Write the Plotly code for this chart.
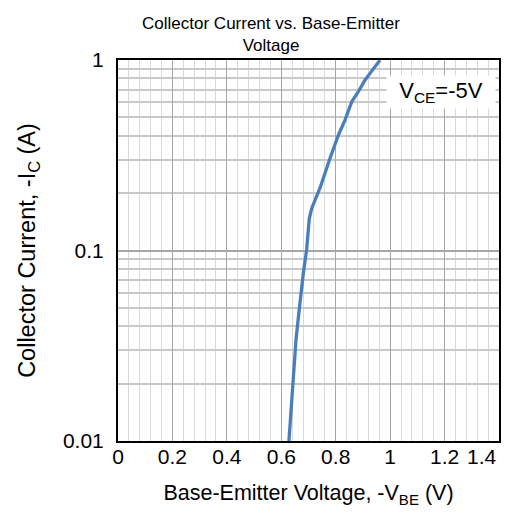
import plotly.graph_objects as go

vbe = [0.628, 0.638, 0.647, 0.654, 0.663, 0.671, 0.681, 0.693, 0.703, 0.712,
       0.742, 0.779, 0.810, 0.834, 0.859, 0.883, 0.908, 0.926, 0.957, 0.963]
ic = [0.0100, 0.0164, 0.0227, 0.0339, 0.0449, 0.0571, 0.0759, 0.1006, 0.1476, 0.1667,
      0.2124, 0.305, 0.404, 0.484, 0.604, 0.682, 0.785, 0.851, 0.98, 1.0]

x_ticks = [0, 0.2, 0.4, 0.6, 0.8, 1.0, 1.2, 1.4]
x_tick_text = ["0", "0.2", "0.4", "0.6", "0.8", "1", "1.2", "1.4"]
y_ticks = [0.01, 0.1, 1]
y_tick_text = ["0.01", "0.1", "1"]

FONT = "Liberation Sans, Arial, sans-serif"

fig = go.Figure()
fig.add_trace(go.Scatter(x=vbe, y=ic, mode="lines",
                         line=dict(color="#4a7ebb", width=3.3), showlegend=False))

# last tick label is drawn right-aligned at its tick (as in the reference) so it stays inside the page
shown_text = x_tick_text[:-1] + [""]

fig.update_layout(
    width=500, height=500,
    margin=dict(l=110, r=9, t=52, b=67),
    paper_bgcolor="white", plot_bgcolor="white",
    font=dict(family=FONT, size=21, color="black"),
    title=dict(text="Collector Current vs. Base-Emitter<br>Voltage",
               x=0.526, xanchor="center", y=0.958, yanchor="middle",
               font=dict(family=FONT, size=17, color="black")),
    xaxis=dict(range=[0, 1.4], tickvals=x_ticks, ticktext=shown_text,
               automargin=False,
               showgrid=True, gridcolor="#a6a6a6", gridwidth=1,
               minor=dict(dtick=0.04, showgrid=True, gridcolor="#d9d9d9", gridwidth=1),
               showline=True, linecolor="black", linewidth=2, mirror=True,
               ticks="", zeroline=False, ticklabelstandoff=-4,
               tickfont=dict(size=21),
               title=dict(text="Base-Emitter Voltage, -V<sub>BE</sub> (V)",
                          font=dict(size=21.5), standoff=29)),
    yaxis=dict(type="log", range=[-2, 0], tickvals=y_ticks, ticktext=y_tick_text,
               automargin=False,
               showgrid=True, gridcolor="#a6a6a6", gridwidth=1.5,
               minor=dict(dtick="D1", showgrid=True, gridcolor="#c8c8c8", gridwidth=1.5),
               showline=True, linecolor="black", linewidth=2, mirror=True,
               ticks="", zeroline=False, ticklabelstandoff=8,
               tickfont=dict(size=21),
               title=dict(text="Collector Current, -I<sub>C</sub> (A)",
                          font=dict(size=23.5), standoff=21)),
    annotations=[
        dict(text="V<sub>CE</sub>=-5V", xref="paper", yref="paper",
             x=0.848, y=0.915, xanchor="center", yanchor="middle",
             width=104, height=28, align="center",
             showarrow=False, bgcolor="white", borderpad=2,
             font=dict(family=FONT, size=22, color="black")),
        dict(text=x_tick_text[-1], xref="x", yref="paper",
             x=x_ticks[-1], y=0, xanchor="right", yanchor="middle",
             xshift=0, yshift=-15, showarrow=False,
             font=dict(family=FONT, size=21, color="black")),
    ],
)

fig.write_html("out.html")
